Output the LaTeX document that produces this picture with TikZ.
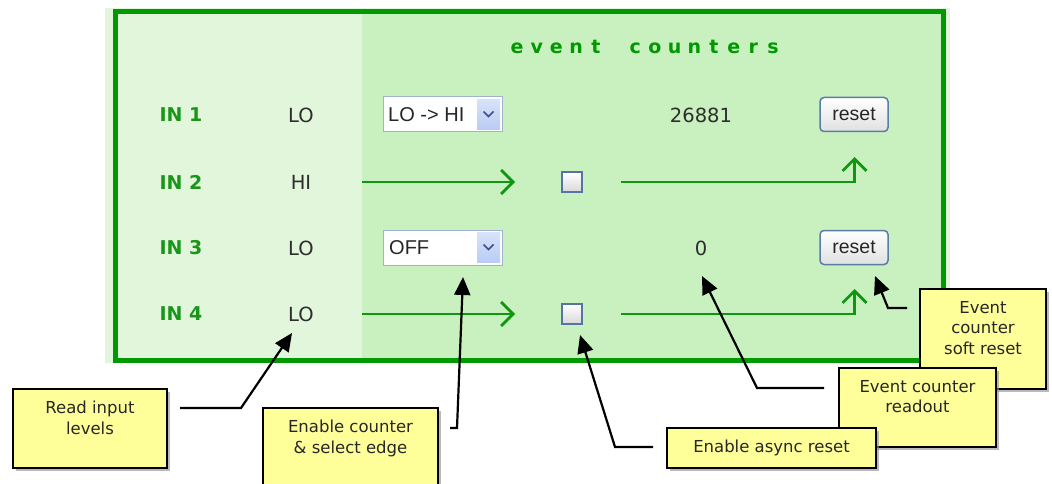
\documentclass[tikz,border=0pt]{standalone}
\usepackage{fontspec}
\setmainfont{DejaVu Sans}
\newfontfamily\arialf{Liberation Sans}
\usetikzlibrary{arrows.meta,shadows,calc}
\definecolor{panelgreen}{RGB}{0,153,0}
\definecolor{lightleft}{RGB}{226,246,219}
\definecolor{lightright}{RGB}{201,240,191}
\definecolor{stripc}{RGB}{226,246,219}
\definecolor{ingreen}{RGB}{25,150,25}
\definecolor{arrowgreen}{RGB}{16,150,16}
\definecolor{bodytext}{RGB}{45,45,45}
\definecolor{calloutyellow}{RGB}{255,255,153}
\definecolor{ddborder}{RGB}{160,178,210}
\definecolor{ddbtn}{RGB}{184,204,245}
\definecolor{ddchev}{RGB}{60,80,140}
\definecolor{btnborder}{RGB}{90,125,165}
\definecolor{cbborder}{RGB}{85,115,165}
\tikzset{
  inlabel/.style={font=\bfseries\fontsize{19}{22}\selectfont, text=ingreen, inner sep=0pt},
  lvl/.style={font=\fontsize{19.5}{22}\selectfont, text=bodytext, inner sep=0pt},
  ddbox/.style={draw=ddborder, line width=1pt, fill=white},
  btnbox/.style={draw=btnborder, line width=1.5pt, rounded corners=4pt, top color=white, bottom color=black!12, minimum width=68pt, minimum height=34pt, inner sep=0pt, font=\arialf\fontsize{19.5}{22}\selectfont, text=black!85},
  cbox/.style={draw=cbborder, line width=1.2pt, top color=white, bottom color=black!15, minimum width=20pt, minimum height=20pt, inner sep=0pt},
  garrow/.style={draw=arrowgreen, line width=2.8pt, -{Straight Barb[length=12pt,width=24pt]}},
  callout/.style={draw=black, line width=2pt, fill=calloutyellow, inner sep=0pt, anchor=north west,
     drop shadow={shadow xshift=2.5pt, shadow yshift=-2.5pt, fill=black!45, opacity=0.6}},
  calltext/.style={font=\fontsize{16.5}{20.5}\selectfont, text=black!85, align=center, inner sep=0pt},
  pointer/.style={draw=black, line width=2.2pt, -{Triangle[length=18pt,width=16pt]}},
  evl/.style={font=\bfseries\fontsize{19}{24}\selectfont, text=panelgreen, inner sep=0pt}
}
\begin{document}
\begin{tikzpicture}[x=1pt,y=-1pt]
\useasboundingbox (0,0) rectangle (1052,484);
% panel
\fill[stripc] (105,8) rectangle (950,363);
\fill[lightleft] (116,12) rectangle (362,360);
\fill[lightright] (362,12) rectangle (944,360);
\draw[panelgreen, line width=5pt] (115.5,11.5) rectangle (943.5,360);
% title
\foreach \i/\c in {0/e,1/v,2/e,3/n,4/t,6/c,7/o,8/u,9/n,10/t,11/e,12/r,13/s}{
  \node[evl, anchor=base] (ev\i) at ({517+\i*19.7},54) {\c};
}
% row labels
\node[inlabel] (in1) at (181,115) {IN 1};
\node[inlabel] (in2) at (181,182) {IN 2};
\node[inlabel] (in3) at (181,248) {IN 3};
\node[inlabel] (in4) at (181,314) {IN 4};
\node[lvl] (lv1) at (301,115) {LO};
\node[lvl] (lv2) at (301,182) {HI};
\node[lvl] (lv3) at (301,248) {LO};
\node[lvl] (lv4) at (301,314) {LO};
% dropdowns
\draw[ddbox] (383,97) rectangle (502,132);
\fill[top color=ddbtn!55, bottom color=ddbtn] (477,99.5) rectangle (500,129.5);
\draw[ddchev, line width=1.6pt] (483.5,111.5) -- (488.5,116.5) -- (493.5,111.5);
\node[font=\arialf\fontsize{20}{22}\selectfont, text=black!85, anchor=west, inner sep=0pt] (dd1) at (388,115) {LO -> HI};
\draw[ddbox] (383,230) rectangle (502,265);
\fill[top color=ddbtn!55, bottom color=ddbtn] (477,232.5) rectangle (500,262.5);
\draw[ddchev, line width=1.6pt] (483.5,244.5) -- (488.5,249.5) -- (493.5,244.5);
\node[font=\arialf\fontsize{20}{22}\selectfont, text=black!85, anchor=west, inner sep=0pt] (dd3) at (389,248) {OFF};
% counters and buttons
\node[lvl] (cnt1) at (701,115) {26881};
\node[lvl] (cnt3) at (701,248) {0};
\node[btnbox] (rst1) at (854,114.5) {reset};
\node[btnbox] (rst3) at (854,247.5) {reset};
% checkboxes
\node[cbox] (cb2) at (572,182) {};
\node[cbox] (cb4) at (572,314) {};
% green arrows
\coordinate (s2) at (362,182);
\coordinate (e2) at (515,182);
\coordinate (s2b) at (621,182);
\coordinate (u2) at (854.5,157);
\coordinate (s4) at (362,314);
\coordinate (e4) at (515,314);
\coordinate (s4b) at (621,314);
\coordinate (u4) at (854.5,289);
\draw[garrow] (s2) -- (e2);
\draw[garrow] (s2b) -| (u2);
\draw[garrow] (s4) -- (e4);
\draw[garrow] (s4b) -| (u4);
% callouts (back to front)
\node[callout, minimum width=126pt, minimum height=100pt] (soft) at (919,288) {};
\node[calltext, below] at ($(soft.north)+(0,13)$) {Event\\counter\\soft reset};
\node[callout, minimum width=157pt, minimum height=79pt] (readout) at (838,367) {};
\node[calltext, below] at ($(readout.north)+(0,13)$) {Event counter\\readout};
\node[callout, minimum width=209pt, minimum height=40pt] (async) at (666,427) {};
\node[calltext] at (async.center) {Enable async reset};
\node[callout, minimum width=154pt, minimum height=79pt] (read) at (12,388) {};
\node[calltext, below] at ($(read.north)+(0,13)$) {Read input\\levels};
\node[callout, minimum width=175pt, minimum height=90pt] (edge) at (262,407) {};
\node[calltext, below] at ($(edge.north)+(0,13)$) {Enable counter\\\& select edge};
% pointers
\coordinate (pr0) at (180,408); \coordinate (pr1) at (241,408); \coordinate (pr2) at (292,333);
\draw[pointer] (pr0) -- (pr1) -- (pr2);
\coordinate (pe0) at (450,428); \coordinate (pe1) at (457,428); \coordinate (pe2) at (463,277);
\draw[pointer] (pe0) -- (pe1) -- (pe2);
\coordinate (pa0) at (653,447); \coordinate (pa1) at (615,447); \coordinate (pa2) at (580,335);
\draw[pointer] (pa0) -- (pa1) -- (pa2);
\coordinate (po0) at (824,388); \coordinate (po1) at (757,388); \coordinate (po2) at (702,276);
\draw[pointer] (po0) -- (po1) -- (po2);
\coordinate (ps0) at (907,308); \coordinate (ps1) at (888,308); \coordinate (ps2) at (875,276);
\draw[pointer] (ps0) -- (ps1) -- (ps2);
\end{tikzpicture}
\end{document}
